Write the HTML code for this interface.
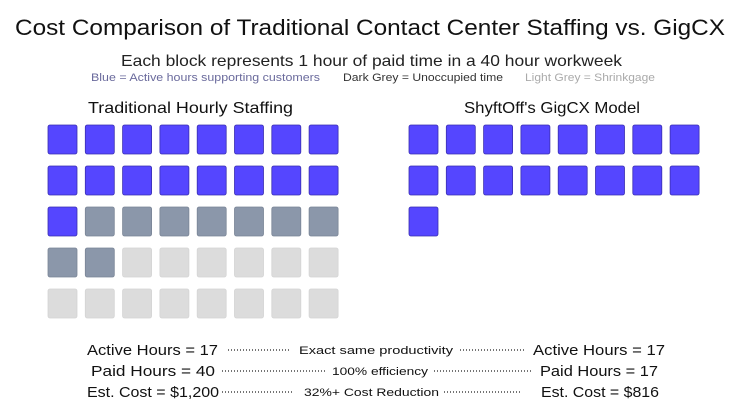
<!DOCTYPE html>
<html><head><meta charset="utf-8"><style>
html,body{margin:0;padding:0;background:#fff;}
svg{display:block;font-family:"Liberation Sans",sans-serif;}
</style></head><body>
<svg width="740" height="416" viewBox="0 0 740 416" xmlns="http://www.w3.org/2000/svg">
<text x="15" y="35" font-size="22" fill="#111" textLength="710" lengthAdjust="spacingAndGlyphs">Cost Comparison of Traditional Contact Center Staffing vs. GigCX</text>
<text x="121" y="66" font-size="16" fill="#222" textLength="501" lengthAdjust="spacingAndGlyphs">Each block represents 1 hour of paid time in a 40 hour workweek</text>
<text x="91" y="81" font-size="11" fill="#6a6a9c" textLength="229" lengthAdjust="spacingAndGlyphs">Blue = Active hours supporting customers</text>
<text x="343" y="81" font-size="11" fill="#333" textLength="160" lengthAdjust="spacingAndGlyphs">Dark Grey = Unoccupied time</text>
<text x="525" y="81" font-size="11" fill="#aaa" textLength="130" lengthAdjust="spacingAndGlyphs">Light Grey = Shrinkgage</text>
<text x="88" y="113" font-size="16" fill="#111" textLength="205" lengthAdjust="spacingAndGlyphs">Traditional Hourly Staffing</text>
<text x="464" y="113" font-size="16" fill="#111" textLength="176" lengthAdjust="spacingAndGlyphs">ShyftOff's GigCX Model</text>
<g id="blocks"></g>
<g font-size="15" fill="#111">
<text x="87" y="355" textLength="131" lengthAdjust="spacingAndGlyphs">Active Hours = 17</text>
<text x="533" y="355" textLength="132" lengthAdjust="spacingAndGlyphs">Active Hours = 17</text>
<text x="91" y="376" textLength="124" lengthAdjust="spacingAndGlyphs">Paid Hours = 40</text>
<text x="540" y="376" textLength="118" lengthAdjust="spacingAndGlyphs">Paid Hours = 17</text>
<text x="87" y="397" textLength="132" lengthAdjust="spacingAndGlyphs">Est. Cost = $1,200</text>
<text x="541" y="397" textLength="118" lengthAdjust="spacingAndGlyphs">Est. Cost = $816</text>
</g>
<g font-size="11" fill="#111">
<text x="299" y="354" textLength="154" lengthAdjust="spacingAndGlyphs">Exact same productivity</text>
<text x="332" y="375" textLength="96" lengthAdjust="spacingAndGlyphs">100% efficiency</text>
<text x="304" y="396" textLength="135" lengthAdjust="spacingAndGlyphs">32%+ Cost Reduction</text>
</g>
<g stroke="#222" stroke-width="1.2" stroke-dasharray="1 2">
<line x1="228" y1="350" x2="289" y2="350"/><line x1="460" y1="350" x2="524" y2="350"/>
<line x1="222" y1="371" x2="325" y2="371"/><line x1="434" y1="371" x2="532" y2="371"/>
<line x1="222" y1="392" x2="294" y2="392"/><line x1="444" y1="392" x2="522" y2="392"/>
</g>
<!-- left grid -->
<g stroke-width="0.8">
<!-- rows generated manually -->
</g>
<script>
var g=document.getElementById('blocks'),ns='http://www.w3.org/2000/svg';
function b(x,y,f,s){var r=document.createElementNS(ns,'rect');r.setAttribute('x',x);r.setAttribute('y',y);r.setAttribute('width',29);r.setAttribute('height',29);r.setAttribute('rx',2);r.setAttribute('fill',f);r.setAttribute('stroke',s);r.setAttribute('stroke-width',0.8);g.appendChild(r);}
var B='#5546ff',BS='#3a2fb0',D='#8b97aa',DS='#7a8596',L='#dcdcdc',LS='#d4d4d4';
for(var i=0;i<40;i++){var r=Math.floor(i/8),c=i%8;var f=i<17?B:(i<26?D:L),s=i<17?BS:(i<26?DS:LS);b(48+c*37.3,125+r*41,f,s);}
for(var i=0;i<17;i++){var r=Math.floor(i/8),c=i%8;b(409+c*37.3,125+r*41,B,BS);}
</script>
</svg>
</body></html>
